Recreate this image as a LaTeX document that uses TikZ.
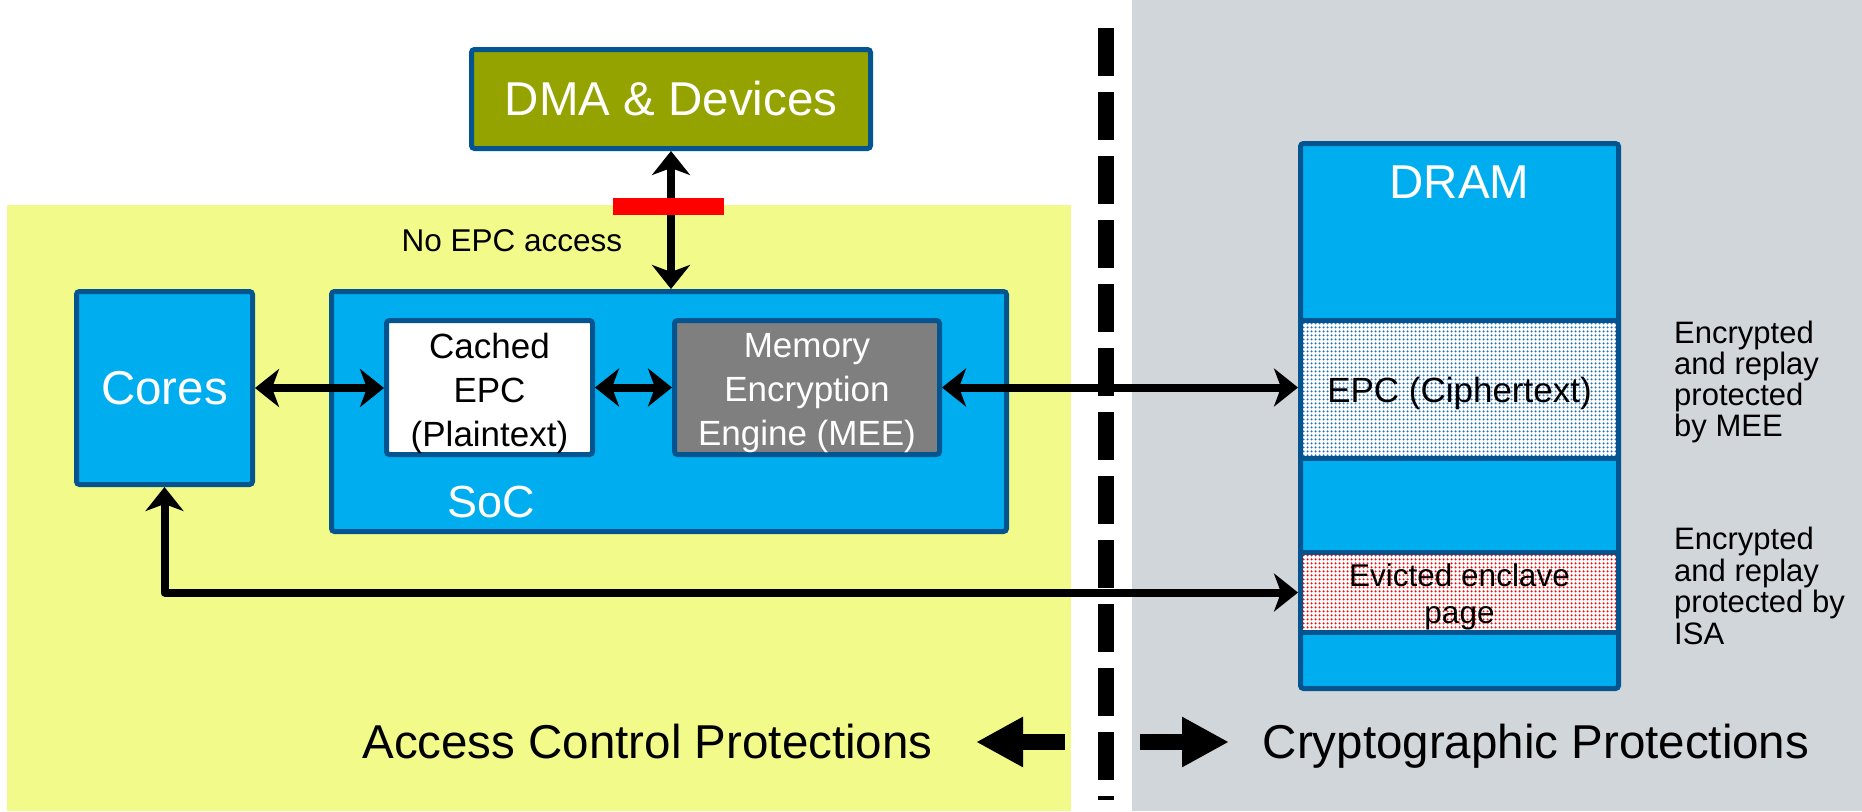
\documentclass[tikz,border=0pt]{standalone}
\usepackage{fontspec}
\setmainfont{Liberation Sans}
\usetikzlibrary{arrows.meta,patterns.meta}

\definecolor{zoneyellow}{HTML}{F2FA8A}
\definecolor{zonegray}{HTML}{D1D6DB}
\definecolor{chipblue}{HTML}{00AEEF}
\definecolor{edgeblue}{HTML}{04558F}
\definecolor{devolive}{HTML}{94A300}
\definecolor{meegray}{HTML}{7F7F7F}
\definecolor{dotblue}{HTML}{1F70C8}
\definecolor{barred}{HTML}{FF0000}

\begin{document}
\begin{tikzpicture}[x=1pt,y=-1pt,
  box/.style={draw=edgeblue, line width=5pt, rounded corners=3pt, inner sep=0pt, align=center},
  band/.style={box, rounded corners=0pt, minimum width=318pt, preaction={fill=white}},
  txt/.style={inner sep=0pt, align=center},
  lbl/.style={inner sep=0pt, anchor=base},
  note/.style={inner sep=0pt, anchor=north west, align=left},
  bigfont/.style={font=\fontsize{47.5}{54}\selectfont},
  midfont/.style={font=\fontsize{35}{44}\selectfont},
  smallfont/.style={font=\fontsize{31.5}{37}\selectfont},
  dotfill/.style={pattern={Dots[distance=4pt,radius=1.4pt]}, pattern color=#1},
  tip/.tip={Stealth[length=24pt,width=38pt,inset=7pt]},
  link/.style={line width=8pt, line join=round, tip-tip},
  blockarrow/.style={line width=16pt, -{Triangle[length=47pt,width=47pt]}},
  divider/.style={line width=16pt, dash pattern=on 48pt off 16pt}]

\useasboundingbox (0,0) rectangle (1862,811);

% protection zones
\fill[white] (0,0) rectangle (1862,811);
\fill[zoneyellow] (7,205) rectangle (1071,811);
\fill[zonegray] (1132,0) rectangle (1862,811);

% boundary between the two protection domains
\coordinate (divtop) at (1106,28);
\coordinate (divbot) at (1106,800);
\draw[divider] (divtop) -- (divbot);

% platform blocks
\node[box, fill=devolive, text=white, bigfont, minimum width=399pt, minimum height=99pt] (dma) at (671,99) {DMA \& Devices};
\node[box, fill=chipblue, text=white, bigfont, minimum width=176pt, minimum height=193pt] (cores) at (164.5,388) {Cores};
\node[box, fill=chipblue, minimum width=675pt, minimum height=240pt] (soc) at (669,411.5) {};
\node[lbl, text=white, font=\fontsize{45}{50}\selectfont] (soctext) at (491,517) {SoC};
\node[box, fill=white, minimum width=206pt, minimum height=134pt] (cached) at (489.5,387.5) {};
\node[txt, midfont] (cachedtext) at ([yshift=-6pt]cached.center) {Cached\\EPC\\(Plaintext)};
\node[box, fill=meegray, minimum width=265pt, minimum height=134pt] (mee) at (807,387.5) {};
\node[txt, midfont, text=white] (meetext) at ([yshift=-6pt]mee.center) {Memory\\Encryption\\Engine (MEE)};

% memory
\node[box, fill=chipblue, minimum width=318pt, minimum height=545pt] (dram) at (1459.5,416) {};
\node[lbl, text=white, bigfont] (dramtext) at (1459.5,198) {DRAM};
\node[band, minimum height=138pt, dotfill=dotblue] (epc) at (1459.5,389.5) {};
\node[txt, midfont] (epctext) at ([yshift=-4pt]epc.center) {EPC (Ciphertext)};
\node[band, minimum height=80pt, dotfill=barred] (evicted) at (1459.5,592.5) {};
\node[txt, smallfont] (evictedtext) at ([yshift=-4pt]evicted.center) {Evicted enclave\\page};

% notes on the memory regions
\node[note, font=\fontsize{31}{31}\selectfont] (meenote) at (1674,321) {Encrypted\\and replay\\protected\\by MEE};
\node[note, font=\fontsize{31}{31.5}\selectfont] (isanote) at (1674,527) {Encrypted\\and replay\\protected by\\ISA};

% data paths
\draw[link] (dma.south) -- (dma.south |- soc.north);
\draw[link] (cores.east) -- (cores.east -| cached.west);
\draw[link] (cached.east) -- (cached.east -| mee.west);
\draw[link] (mee.east) -- (mee.east -| epc.west);
\draw[link] (cores.south) |- (evicted.west);

% blocked device access
\node[fill=barred, inner sep=0pt, minimum width=111pt, minimum height=17pt] (nobar) at (668.5,206.5) {};
\node[lbl, font=\fontsize{31.5}{36}\selectfont] (noaccess) at (512,251) {No EPC access};

% domain captions
\node[lbl, bigfont] (acp) at (647.5,758) {Access Control Protections};
\node[lbl, bigfont] (crp) at (1536,758) {Cryptographic Protections};
\coordinate (acptail) at (1065,742);
\coordinate (acptip) at (976,742);
\coordinate (crptail) at (1140,742);
\coordinate (crptip) at (1229,742);
\draw[blockarrow] (acptail) -- (acptip);
\draw[blockarrow] (crptail) -- (crptip);

\end{tikzpicture}
\end{document}
